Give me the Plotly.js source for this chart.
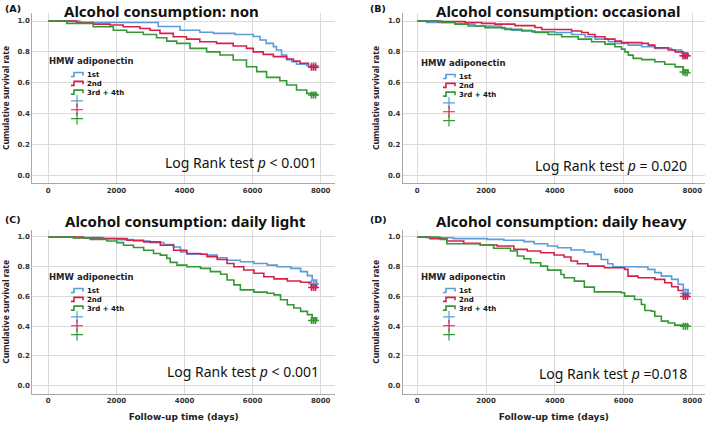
<!DOCTYPE html>
<html>
<head>
<meta charset="utf-8">
<script src="https://cdn.plot.ly/plotly-3.0.1.min.js"></script>
<style>html,body{margin:0;padding:0;background:#fff;}#chart{width:709px;height:422px;}</style>
</head>
<body>
<div id="chart"></div>
<script>
// ---------- data ----------
const groupNames = ['1st', '2nd', '3rd + 4th'];
const panelTitles = ['Alcohol consumption: non', 'Alcohol consumption: occasional', 'Alcohol consumption: daily light', 'Alcohol consumption: daily heavy'];
const panelLabels = ['(A)', '(B)', '(C)', '(D)'];
const logRankTexts = ['Log Rank test <i>p</i> &lt; 0.001', 'Log Rank test <i>p</i> = 0.020', 'Log Rank test <i>p</i> &lt; 0.001', 'Log Rank test <i>p</i> =0.018'];
const xTicks = [0, 2000, 4000, 6000, 8000];
const yTicks = [0, 0.2, 0.4, 0.6, 0.8, 1.0];

// Panel A (non)
const aX1 = [0, 930, 3230, 3870, 4450, 4850, 5480, 6020, 6220, 6400, 6610, 6700, 6850, 7000, 7150, 7290, 7590, 7880];
const aY1 = [1.0, 0.99, 0.965, 0.94, 0.927, 0.92, 0.913, 0.90, 0.877, 0.855, 0.834, 0.812, 0.78, 0.75, 0.737, 0.72, 0.71, 0.71];
const aX2 = [0, 830, 1320, 1810, 2200, 2690, 2990, 3280, 3670, 4060, 4450, 4940, 5430, 5820, 6020, 6310, 6610, 7000, 7200, 7390, 7640, 7880];
const aY2 = [1.0, 0.99, 0.98, 0.974, 0.963, 0.952, 0.94, 0.92, 0.898, 0.883, 0.866, 0.855, 0.838, 0.823, 0.80, 0.784, 0.769, 0.754, 0.74, 0.726, 0.71, 0.70];
const aX3 = [0, 540, 1320, 1910, 2300, 2790, 3180, 3480, 3770, 4160, 4650, 5040, 5430, 5820, 6120, 6410, 6800, 7000, 7290, 7590, 7880];
const aY3 = [1.0, 0.985, 0.963, 0.94, 0.927, 0.913, 0.892, 0.87, 0.855, 0.823, 0.80, 0.78, 0.747, 0.704, 0.672, 0.635, 0.613, 0.585, 0.553, 0.531, 0.52];

// Panel B (occasional)
const bX1 = [0, 270, 1100, 1680, 2450, 2740, 3330, 4000, 4490, 4880, 5170, 5560, 5750, 6140, 6530, 6910, 7400, 7690, 7880];
const bY1 = [1.0, 0.99, 0.98, 0.968, 0.952, 0.94, 0.93, 0.926, 0.913, 0.898, 0.883, 0.866, 0.855, 0.844, 0.833, 0.823, 0.812, 0.79, 0.775];
const bX2 = [0, 610, 1390, 1870, 2260, 2840, 3420, 3620, 4490, 4780, 4970, 5170, 5460, 5750, 5940, 6530, 6720, 6910, 7300, 7500, 7740, 7880];
const bY2 = [1.0, 0.996, 0.99, 0.985, 0.98, 0.97, 0.958, 0.945, 0.935, 0.926, 0.913, 0.898, 0.883, 0.87, 0.86, 0.855, 0.844, 0.827, 0.812, 0.80, 0.784, 0.775];
const bX3 = [0, 710, 1100, 1480, 1970, 2550, 3040, 3420, 3810, 4200, 4680, 5070, 5460, 5750, 5940, 6040, 6140, 6280, 6530, 6910, 7200, 7500, 7740, 7880];
const bY3 = [1.0, 0.99, 0.98, 0.968, 0.957, 0.946, 0.935, 0.926, 0.913, 0.898, 0.883, 0.866, 0.85, 0.833, 0.818, 0.80, 0.779, 0.758, 0.75, 0.736, 0.72, 0.703, 0.682, 0.665];

// Panel C (daily light)
const cX1 = [0, 740, 1620, 2010, 2500, 2990, 3390, 3680, 3880, 4070, 4660, 4960, 5250, 5640, 6040, 6430, 6720, 7120, 7410, 7610, 7750, 7880];
const cY1 = [1.0, 0.996, 0.99, 0.982, 0.973, 0.962, 0.949, 0.933, 0.90, 0.884, 0.878, 0.86, 0.844, 0.833, 0.822, 0.811, 0.80, 0.789, 0.767, 0.74, 0.711, 0.685];
const cX2 = [0, 1030, 1520, 2310, 2800, 3290, 3680, 4070, 4470, 4660, 4960, 5250, 5450, 5740, 6040, 6330, 6630, 7020, 7410, 7710, 7880];
const cY2 = [1.0, 0.993, 0.989, 0.978, 0.967, 0.944, 0.911, 0.889, 0.884, 0.867, 0.849, 0.822, 0.80, 0.778, 0.756, 0.733, 0.718, 0.704, 0.696, 0.678, 0.66];
const cX3 = [0, 740, 1230, 1720, 2010, 2210, 2500, 2800, 3090, 3290, 3480, 3580, 3780, 4070, 4470, 4760, 5060, 5250, 5450, 5640, 6040, 6430, 6630, 6820, 7020, 7210, 7410, 7610, 7750, 7880];
const cY3 = [1.0, 0.993, 0.984, 0.973, 0.962, 0.944, 0.929, 0.911, 0.889, 0.878, 0.856, 0.829, 0.811, 0.80, 0.789, 0.767, 0.749, 0.711, 0.678, 0.644, 0.629, 0.622, 0.611, 0.578, 0.544, 0.522, 0.50, 0.478, 0.456, 0.438];

// Panel D (daily heavy)
const dX1 = [0, 270, 1050, 2030, 2520, 3100, 3400, 3790, 4080, 4470, 4860, 5150, 5350, 5540, 5690, 6420, 6710, 6910, 7100, 7400, 7590, 7740, 7880];
const dY1 = [1.0, 0.995, 0.989, 0.984, 0.978, 0.969, 0.955, 0.939, 0.928, 0.912, 0.899, 0.883, 0.849, 0.82, 0.80, 0.798, 0.782, 0.76, 0.737, 0.715, 0.681, 0.647, 0.62];
const dX2 = [0, 370, 860, 1350, 1830, 2320, 2810, 3200, 3590, 3980, 4270, 4470, 4660, 4960, 5440, 6030, 6130, 6420, 6910, 7200, 7400, 7590, 7740, 7880];
const dY2 = [1.0, 0.989, 0.973, 0.957, 0.946, 0.939, 0.917, 0.906, 0.894, 0.879, 0.865, 0.838, 0.82, 0.804, 0.793, 0.782, 0.737, 0.726, 0.715, 0.692, 0.665, 0.64, 0.618, 0.60];
const dX3 = [0, 660, 860, 1830, 2220, 2710, 2910, 3100, 3300, 3590, 3790, 4180, 4270, 4570, 4860, 5150, 5930, 6030, 6320, 6520, 6620, 6810, 6910, 7100, 7300, 7490, 7880];
const dY3 = [1.0, 0.984, 0.955, 0.946, 0.924, 0.906, 0.872, 0.854, 0.827, 0.804, 0.777, 0.748, 0.726, 0.703, 0.663, 0.631, 0.625, 0.602, 0.58, 0.546, 0.506, 0.501, 0.467, 0.434, 0.422, 0.407, 0.40];

// censored observations (time, survival) at the end of follow-up
const aCensX = [7730, 7790, 7850]; const aCensY1 = [0.71, 0.71, 0.71]; const aCensY2 = [0.70, 0.70, 0.70]; const aCensY3 = [0.52, 0.52, 0.52];
const bCensX = [7730, 7790, 7850]; const bCensY1 = [0.775, 0.775, 0.775]; const bCensY2 = [0.775, 0.775, 0.775]; const bCensY3 = [0.67, 0.665, 0.665];
const cCensX = [7730, 7790, 7850]; const cCensY1 = [0.685, 0.685, 0.685]; const cCensY2 = [0.66, 0.66, 0.66]; const cCensY3 = [0.438, 0.438, 0.438];
const dCensX = [7740, 7800, 7860]; const dCensY1 = [0.62, 0.62, 0.62]; const dCensY2 = [0.60, 0.60, 0.60]; const dCensY3 = [0.40, 0.40, 0.40];

// ---------- styling ----------
const colors = ['#5b9bd9', '#d6204b', '#349934'];
const panels = [
  {xs: [aX1, aX2, aX3], ys: [aY1, aY2, aY3], cx: aCensX, cy: [aCensY1, aCensY2, aCensY3]},
  {xs: [bX1, bX2, bX3], ys: [bY1, bY2, bY3], cx: bCensX, cy: [bCensY1, bCensY2, bCensY3]},
  {xs: [cX1, cX2, cX3], ys: [cY1, cY2, cY3], cx: cCensX, cy: [cCensY1, cCensY2, cCensY3]},
  {xs: [dX1, dX2, dX3], ys: [dY1, dY2, dY3], cx: dCensX, cy: [dCensY1, dCensY2, dCensY3]}
];

const W = 709, H = 422;
const colDom = [[32.3 / W, 335 / W], [402.7 / W, 705 / W]];
const colRange = [[-470, 8420], [-425, 8370]];
const rowDom = [[1 - 183.3 / H, 1 - 12.7 / H], [1 - 393.7 / H, 1 - 230 / H]];
const rowRange = [[-0.052, 1.054], [-0.054, 1.047]];

const traces = [];
panels.forEach((p, i) => {
  const sfx = i === 0 ? '' : String(i + 1);
  const leg = 'legend' + sfx;
  for (let g = 0; g < 3; g++) {
    traces.push({
      type: 'scatter', mode: 'lines', x: p.xs[g], y: p.ys[g],
      xaxis: 'x' + sfx, yaxis: 'y' + sfx, legend: leg,
      name: groupNames[g], line: {color: colors[g], width: 1.6, shape: 'hv'},
      hoverinfo: 'skip'
    });
  }
  for (let g = 0; g < 3; g++) {
    traces.push({
      type: 'scatter', mode: 'markers', x: p.cx, y: p.cy[g],
      xaxis: 'x' + sfx, yaxis: 'y' + sfx, legend: leg,
      name: ' ', marker: {symbol: 'cross-thin', size: 5, color: colors[g], line: {color: colors[g], width: 1.6}},
      hoverinfo: 'skip'
    });
  }
});

const tickFont = {family: 'DejaVu Sans', size: 7, color: '#333', weight: 'bold'};
const layout = {
  width: W, height: H,
  margin: {l: 0, r: 0, t: 0, b: 0},
  paper_bgcolor: '#ffffff', plot_bgcolor: '#ffffff',
  showlegend: true,
  annotations: [],
  font: {family: 'DejaVu Sans', color: '#222'}
};

const legendPos = [[47, 53], [419, 55], [47, 269], [419, 269]];
const titlePos = [[63, 0], [435, 0], [64, 210.5], [435, 210.5]];
const labelPos = [[3, 8.5], [368, 8.5], [3, 219], [368, 219]];
const logRankPos = [[319, 163], [689, 166], [321, 371], [689, 373]];

for (let i = 0; i < 4; i++) {
  const sfx = i === 0 ? '' : String(i + 1);
  const col = i % 2, row = Math.floor(i / 2);
  layout['xaxis' + sfx] = {
    domain: colDom[col], range: colRange[col], anchor: 'y' + sfx,
    tickmode: 'array', tickvals: xTicks, ticktext: xTicks.map(String),
    showgrid: true, gridcolor: '#dadada', gridwidth: 1,
    showline: true, linecolor: '#a8a8a8', linewidth: 1,
    zeroline: false, ticks: '', tickfont: tickFont, fixedrange: true,
    title: row === 1 ? {text: 'Follow-up time (days)', font: {family: 'DejaVu Sans', size: 9, weight: 'bold', color: '#222'}, standoff: 9} : {text: ''}
  };
  layout['yaxis' + sfx] = {
    domain: rowDom[row], range: rowRange[row], anchor: 'x' + sfx,
    tickmode: 'array', tickvals: yTicks, ticktext: yTicks.map(v => v.toFixed(1)),
    showgrid: true, gridcolor: '#dadada', gridwidth: 1,
    showline: true, linecolor: '#a8a8a8', linewidth: 1,
    zeroline: false, ticks: '', tickfont: tickFont, fixedrange: true,
    title: {text: 'Cumulative survival rate', font: {family: 'Noto Sans', size: 8.5, weight: 'bold', color: '#222'}, standoff: 6}
  };
  layout['legend' + sfx] = {
    x: legendPos[i][0] / W, y: 1 - legendPos[i][1] / H, xanchor: 'left', yanchor: 'top',
    xref: 'paper', yref: 'paper',
    bgcolor: 'rgba(0,0,0,0)', borderwidth: 0,
    font: {family: 'DejaVu Sans', size: 7, color: '#111', weight: 'bold'},
    title: {text: 'HMW adiponectin', font: {family: 'DejaVu Sans', size: 8.5, weight: 'bold', color: '#222'}},
    itemwidth: 30, traceorder: 'normal', itemclick: false, itemdoubleclick: false
  };
  layout.annotations.push({
    text: panelTitles[i], xref: 'paper', yref: 'paper', x: titlePos[i][0] / W, y: 1 - titlePos[i][1] / H,
    xanchor: 'left', yanchor: 'top', showarrow: false, borderpad: 0,
    font: {family: 'Noto Sans', size: 15, weight: 'bold', color: '#111'}
  });
  layout.annotations.push({
    text: panelLabels[i], xref: 'paper', yref: 'paper', x: labelPos[i][0] / W, y: 1 - labelPos[i][1] / H,
    xanchor: 'left', yanchor: 'middle', showarrow: false,
    font: {family: 'DejaVu Sans', size: 9.5, weight: 'bold', color: '#111'}
  });
  layout.annotations.push({
    text: logRankTexts[i], xref: 'paper', yref: 'paper', x: logRankPos[i][0] / W, y: 1 - logRankPos[i][1] / H,
    xanchor: 'right', yanchor: 'middle', showarrow: false,
    font: {family: 'Noto Sans', size: 14, color: '#111'}
  });
}

Plotly.newPlot('chart', traces, layout, {staticPlot: true, displayModeBar: false}).then(function (gd) {
  // compact the legend rows (SPSS-style tight legend) and shorten the icons
  ['legend', 'legend2', 'legend3', 'legend4'].forEach(function (name) {
    const lg = gd.querySelector('g.' + name);
    if (!lg) return;
    const items = lg.querySelectorAll('g.traces');
    if (!items.length) return;
    const m = /translate\(\s*([-\d.]+)[ ,]+([-\d.]+)\s*\)/.exec(items[0].getAttribute('transform') || '');
    if (!m) return;
    const x0 = parseFloat(m[1]), y0 = parseFloat(m[2]) - 4;
    items.forEach(function (it, k) {
      it.setAttribute('transform', 'translate(' + x0 + ',' + (y0 + k * 8.8) + ')');
      it.querySelectorAll('path.js-line').forEach(function (p) { p.setAttribute('d', 'M24,2h3v-4h9v3'); });
      it.querySelectorAll('path.scatterpts').forEach(function (p) {
        p.setAttribute('transform', 'translate(30,0) scale(1.7)');
        p.style.strokeWidth = '0.7px';
      });
    });
  });
});
</script>
</body>
</html>
